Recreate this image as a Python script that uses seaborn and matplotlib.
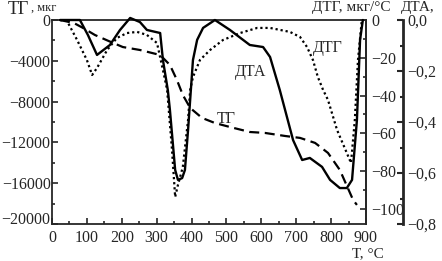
import matplotlib
matplotlib.use("Agg")
import matplotlib.pyplot as plt
import seaborn as sns
from matplotlib.ticker import MultipleLocator

# values
# TG, mkg (dashed)
t_tg = [23, 63, 89, 123, 169, 203, 252, 310, 338, 358, 375, 396, 430, 467,
        510, 567, 610, 668, 711, 754, 791, 825, 863, 874]
tg = [0, -300, -780, -1470, -2160, -2650, -2940, -3430, -4410, -5880, -7350,
      -8620, -9600, -10100, -10490, -10980, -11070, -11370, -11560, -12050,
      -13030, -14700, -17640, -18130]

# DTG, mkg/C (dotted)
t_dtg = [23, 43, 72, 100, 115, 129, 158, 186, 215, 244, 272, 301, 318, 330,
         344, 353, 361, 375, 390, 396, 404, 424, 453, 490, 539, 588, 625,
         682, 711, 731, 748, 762, 777, 791, 817, 845, 857, 868, 877, 888]
dtg = [0, -0.5, -10.6, -21.2, -29.1, -25.4, -15.9, -9.5, -6.9, -6.3, -7.9,
       -12.2, -26.5, -37.0, -68.8, -93.7, -87.3, -77.8, -52.9, -37.0, -30.2,
       -21.2, -15.9, -10.6, -6.9, -4.2, -4.2, -6.3, -9.0, -14.3, -21.2, -30.2,
       -37.0, -42.3, -58.2, -70.4, -75.7, -52.9, -21.2, 0]

# DTA (solid)
t_dta = [23, 80, 103, 129, 166, 195, 224, 252, 272, 310, 318, 332, 338, 353,
         361, 373, 381, 390, 396, 404, 416, 433, 467, 510, 567, 605, 625, 653,
         691, 717, 739, 774, 797, 825, 845, 860, 874, 883, 891]
dta = [0, 0, -0.059, -0.137, -0.098, -0.039, 0.008, -0.008, -0.039, -0.051,
       -0.157, -0.275, -0.353, -0.588, -0.627, -0.62, -0.588, -0.431, -0.314,
       -0.157, -0.078, -0.031, 0.0, -0.039, -0.098, -0.106, -0.145, -0.275,
       -0.471, -0.549, -0.541, -0.576, -0.627, -0.659, -0.659, -0.627,
       -0.392, -0.078, 0]

x_ticks = list(range(0, 901, 100))
tg_ticks = [0, -4000, -8000, -12000, -16000, -20000]
tg_labels = ['0', '\u22124000', '\u22128000', '\u221212000', '\u221216000', '\u221220000']
dtg_ticks = [0, -20, -40, -60, -80, -100]
dtg_labels = ['0', '\u221220', '\u221240', '\u221260', '\u221280', '\u2212100']
dta_ticks = [0, -0.2, -0.4, -0.6, -0.8]
dta_labels = ['0,0', '\u22120,2', '\u22120,4', '\u22120,6', '\u22120,8']

sns.set_style('ticks')
plt.rcParams['font.family'] = ['Liberation Serif', 'DejaVu Serif']
plt.rcParams['font.size'] = 11.5

W, H = 442, 261
fig = plt.figure(figsize=(W / 100, H / 100), dpi=100)
ax = fig.add_axes([52 / W, 37 / H, 314 / W, 204 / H])
ax2 = ax.twinx()
ax3 = ax.twinx()

sns.lineplot(x=t_tg, y=tg, ax=ax, color='black', linewidth=1.6,
             linestyle=(0, (4.5, 2.5)), estimator=None, sort=False)
sns.lineplot(x=t_dtg, y=dtg, ax=ax2, color='black', linewidth=1.6,
             linestyle=(0, (1, 1.3)), estimator=None, sort=False)
sns.lineplot(x=t_dta, y=dta, ax=ax3, color='black', linewidth=1.7,
             estimator=None, sort=False, clip_on=False)

# main axes
ax.set_xlim(0, 900)
ax.set_ylim(-20000, 0)
ax.set_xticks(x_ticks)
ax.set_yticks(tg_ticks)
ax.set_yticklabels(tg_labels)
ax.xaxis.set_minor_locator(MultipleLocator(50))
ax.yaxis.set_minor_locator(MultipleLocator(2000))
ax.tick_params(which='both', direction='in', width=1.2, top=False, right=False)
ax.tick_params(which='major', length=4)
ax.tick_params(which='minor', length=2)
ax.tick_params(axis='y', pad=1)
ax.tick_params(axis='x', pad=4)
# lift the lowest y label a little so it clears the x "0"
ax.get_yticklabels()[-1].set_verticalalignment('baseline')
for s in ax.spines.values():
    s.set_linewidth(1.3)
ax.set_xlabel('')
ax.set_ylabel('')

# DTG axis on the right edge
ax2.set_ylim(-108, 0)
ax2.set_yticks(dtg_ticks)
ax2.set_yticklabels(dtg_labels)
ax2.yaxis.set_minor_locator(MultipleLocator(10))
ax2.tick_params(which='both', direction='in', width=1.2, pad=4)
ax2.tick_params(which='major', length=4)
ax2.tick_params(which='minor', length=2)
for k in ['left', 'top', 'bottom']:
    ax2.spines[k].set_visible(False)
ax2.spines['right'].set_linewidth(1.3)
ax2.set_ylabel('')

# DTA axis further out
ax3.set_ylim(-0.8, 0)
ax3.spines['right'].set_position(('axes', 351 / 314))
ax3.set_yticks(dta_ticks)
ax3.set_yticklabels(dta_labels)
ax3.yaxis.set_minor_locator(MultipleLocator(0.1))
ax3.tick_params(which='both', direction='in', width=1.5, pad=3)
ax3.tick_params(which='major', length=4)
ax3.tick_params(which='minor', length=2)
for k in ['left', 'top', 'bottom']:
    ax3.spines[k].set_visible(False)
ax3.spines['right'].set_linewidth(2)
ax3.set_ylabel('')

# axis titles
fig.text(8 / W, 1 - 9 / H, '\u0422\u0413', fontsize=13, va='center', ha='left')
fig.text(31 / W, 1 - 8 / H, ', \u043c\u043a\u0433', fontsize=9, va='center', ha='left')
fig.text(312 / W, 1 - 8 / H, '\u0414\u0422\u0413, \u043c\u043a\u0433/\u00b0\u0421',
         fontsize=11, va='center', ha='left')
fig.text(401 / W, 1 - 7 / H, '\u0414\u0422\u0410,', fontsize=11, va='center', ha='left')
fig.text(368 / W, 1 - 254 / H, '\u0422, \u00b0\u0421', fontsize=11, va='center', ha='center')

# curve labels
fig.text(328 / W, 1 - 48 / H, '\u0414\u0422\u0413', fontsize=11.5, va='center', ha='center')
fig.text(251 / W, 1 - 72 / H, '\u0414\u0422\u0410', fontsize=11.5, va='center', ha='center')
fig.text(226 / W, 1 - 119 / H, '\u0422\u0413', fontsize=11.5, va='center', ha='center')

fig.savefig('out.png', dpi=100)
